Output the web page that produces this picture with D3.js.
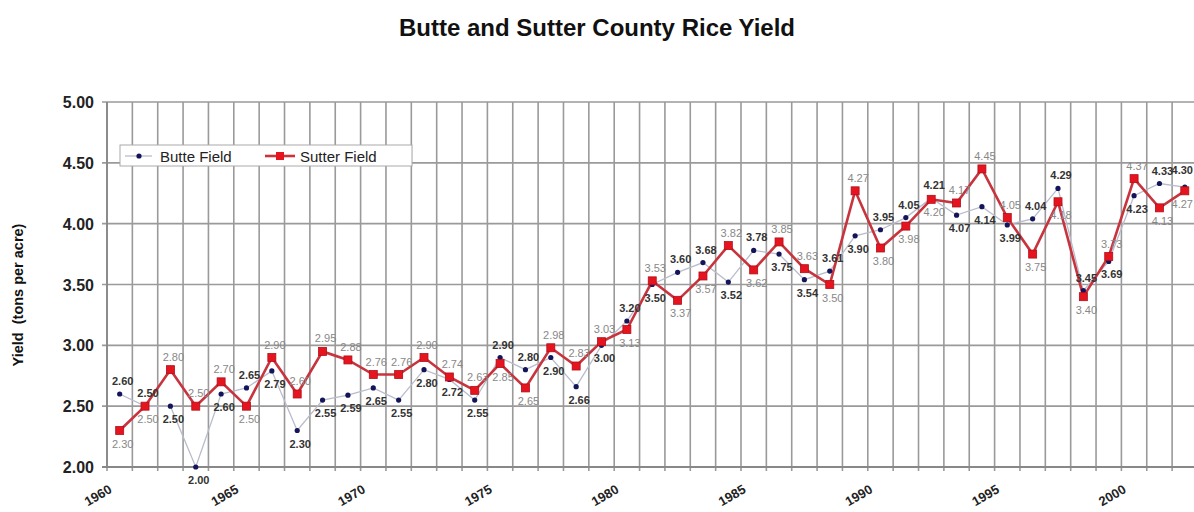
<!DOCTYPE html>
<html><head><meta charset="utf-8">
<script src="https://cdn.jsdelivr.net/npm/d3@7"></script>
<style>body{margin:0;background:#fff;}svg{display:block;font-family:Arial,"Liberation Sans",sans-serif;}</style>
</head><body>
<svg id="c" width="1194" height="512"></svg>
<script>
const years = d3.range(1960, 2003);
const butte = [2.60,2.50,2.50,2.00,2.60,2.65,2.79,2.30,2.55,2.59,2.65,2.55,2.80,2.72,2.55,2.90,2.80,2.90,2.66,3.00,
               3.20,3.50,3.60,3.68,3.52,3.78,3.75,3.54,3.61,3.90,3.95,4.05,4.21,4.07,4.14,3.99,4.04,4.29,3.45,3.69,
               4.23,4.33,4.30];
const sutter = [2.30,2.50,2.80,2.50,2.70,2.50,2.90,2.60,2.95,2.88,2.76,2.76,2.90,2.74,2.63,2.85,2.65,2.98,2.83,3.03,
                3.13,3.53,3.37,3.57,3.82,3.62,3.85,3.63,3.50,4.27,3.80,3.98,4.20,4.17,4.45,4.05,3.75,4.18,3.40,3.73,
                4.37,4.13,4.27];
const yTicks = [2.00,2.50,3.00,3.50,4.00,4.50,5.00];
const xLabelYears = [1960,1965,1970,1975,1980,1985,1990,1995,2000];
const seriesNames = ["Butte Field","Sutter Field"];
const title = "Butte and Sutter County Rice Yield";
const yTitle = "Yield  (tons per acre)";

const svg = d3.select("#c");
const W = 1194;
const L = 107, T = 102, B = 467, bw = 25.36;
const R = L + bw * years.length;
const x = d3.scaleBand().domain(years).range([L, R]).padding(0);
const y = d3.scaleLinear().domain([2, 5]).range([B, T]);
const cx = d => x(d) + x.bandwidth()/2;

svg.append("text").attr("x", 597).attr("y", 36).attr("text-anchor","middle")
  .attr("font-size", 24).attr("font-weight","bold").attr("fill","#111").text(title);

// grid
const g = svg.append("g");
g.selectAll(".hg").data(yTicks).join("line")
  .attr("x1", L-5).attr("x2", R).attr("y1", d=>y(d)).attr("y2", d=>y(d))
  .attr("stroke","#9a9a9a").attr("stroke-width",1.6);
const bounds = years.map(d => x(d)).concat([R]);
g.selectAll(".vg").data(bounds).join("line")
  .attr("x1", d=>d).attr("x2", d=>d).attr("y1", T).attr("y2", B+4)
  .attr("stroke","#9a9a9a").attr("stroke-width",1.6);
g.append("line").attr("x1",L).attr("x2",L).attr("y1",T).attr("y2",B).attr("stroke","#888").attr("stroke-width",1.8);
g.append("line").attr("x1",L-5).attr("x2",R).attr("y1",B).attr("y2",B).attr("stroke","#888").attr("stroke-width",1.8);

// y tick labels
svg.selectAll(".yl").data(yTicks).join("text")
  .attr("x", 94).attr("y", d=>y(d)+6).attr("text-anchor","end")
  .attr("font-size",16).attr("font-weight","bold").attr("fill","#222")
  .text(d=>d3.format(".2f")(d));

// x labels
svg.selectAll(".xl").data(xLabelYears).join("text")
  .attr("transform", d=>`translate(${cx(d)-7},${B+25}) rotate(-30)`)
  .attr("text-anchor","end").attr("font-size",13).attr("font-weight","bold").attr("fill","#222")
  .text(d=>d);

// y title
svg.append("text").attr("transform","translate(23,295) rotate(-90)").attr("text-anchor","middle")
  .attr("font-size",14.5).attr("font-weight","bold").attr("fill","#111").attr("xml:space","preserve").text(yTitle);

// lines
const line = arr => d3.line().x((d,i)=>cx(years[i])).y(d=>y(d))(arr);
svg.append("path").attr("d", line(butte)).attr("fill","none").attr("stroke","#b9bccb").attr("stroke-width",1.3);
svg.append("path").attr("d", line(sutter)).attr("fill","none").attr("stroke","#c8343e").attr("stroke-width",2.6);
svg.selectAll(".bd").data(butte).join("circle")
  .attr("cx",(d,i)=>cx(years[i])).attr("cy",d=>y(d)).attr("r",2.6).attr("fill","#14145a");
svg.selectAll(".sd").data(sutter).join("rect")
  .attr("x",(d,i)=>cx(years[i])-4).attr("y",d=>y(d)-4).attr("width",8).attr("height",8)
  .attr("fill","#e5141e").attr("stroke","#b0101a").attr("stroke-width",0.8);

// data labels: higher value above, lower below; last column kept inside the frame
const fmt = d3.format(".2f");
const last = years.length - 1;
function labels(arr, other, isButte){
  svg.selectAll(null).data(arr).join("text")
    .attr("x",(d,i)=> i === last ? W - 1 : cx(years[i]) + 3)
    .attr("y",(d,i)=>{
      const above = isButte ? d >= other[i] : d > other[i];
      return above ? y(d) - (i === last ? 13 : 9) : y(d) + 17;
    })
    .attr("text-anchor",(d,i)=> i === last ? "end" : "middle").attr("font-size",11)
    .attr("font-weight", isButte ? "bold" : "normal")
    .attr("fill", isButte ? "#333" : "#888")
    .text(d=>fmt(d));
}
labels(butte, sutter, true);
labels(sutter, butte, false);

// legend
const lg = svg.append("g");
lg.append("rect").attr("x",120).attr("y",145).attr("width",292).attr("height",21)
  .attr("fill","#fff").attr("stroke","#aaa").attr("stroke-width",1);
lg.append("line").attr("x1",125).attr("x2",152).attr("y1",156).attr("y2",156).attr("stroke","#b9bccb").attr("stroke-width",1.3);
lg.append("circle").attr("cx",139).attr("cy",156).attr("r",2.6).attr("fill","#14145a");
lg.append("text").attr("x",160).attr("y",161.5).attr("font-size",15).attr("fill","#222").text(seriesNames[0]);
lg.append("line").attr("x1",265).attr("x2",295).attr("y1",156).attr("y2",156).attr("stroke","#c8343e").attr("stroke-width",2.6);
lg.append("rect").attr("x",276).attr("y",152).attr("width",8).attr("height",8).attr("fill","#e5141e");
lg.append("text").attr("x",300).attr("y",161.5).attr("font-size",15).attr("fill","#222").text(seriesNames[1]);
</script>
</body></html>
